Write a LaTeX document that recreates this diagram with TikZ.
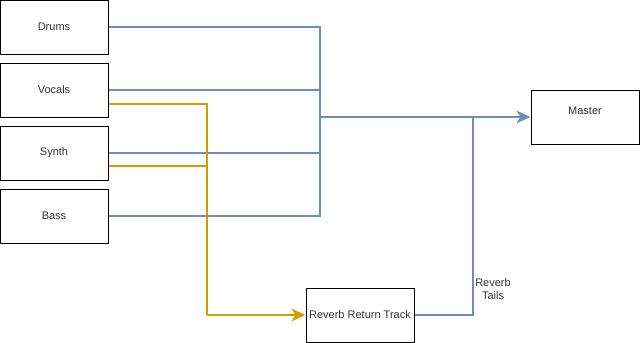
\documentclass[tikz,border=0pt]{standalone}
\usepackage{fontspec}
\setmainfont{Liberation Sans}
\usetikzlibrary{arrows.meta,calc}
\definecolor{busblue}{HTML}{6C8EBF}
\definecolor{sendorange}{HTML}{D79B00}
\definecolor{txt}{HTML}{333333}
\begin{document}
\begin{tikzpicture}[x=0.75pt,y=-0.75pt,
  box/.style={draw=black,line width=0.75pt,fill=white,minimum width=81pt,minimum height=40.5pt,inner sep=0pt,font=\fontsize{8.25}{9.5}\selectfont,text=txt},
  lbl/.style={font=\fontsize{8.25}{9.5}\selectfont,text=txt,inner sep=0pt},
  bl/.style={draw=busblue,line width=1.6pt},
  orl/.style={draw=sendorange,line width=1.6pt},
  tip/.style={-{Stealth[length=10.5pt,width=9.5pt,inset=3pt]}}]
\useasboundingbox (0,0) rectangle (640,343);
\node[box] (drums) at (54,27) {Drums};
\node[box] (vocals) at (54,90) {Vocals};
\node[box] (synth) at (54,153) {Synth};
\node[box] (bass) at (54,216) {Bass};
\node[box,label={[lbl,yshift=4.5pt]center:Master}] (master) at (585,117) {};
\node[box] (reverb) at (360,315) {Reverb Return Track};
\coordinate (bus) at (320,117);
\coordinate (join) at (473,117);
\coordinate (send) at (207,315);
\draw[bl] (drums.east) -| (bus);
\draw[bl] (vocals.east) -| (bus);
\draw[bl] (synth.east) -| (bus);
\draw[bl] (bass.east) -| (bus);
\draw[bl,tip] (bus) -- (master.west);
\draw[bl] (reverb.east) -| (join);
\draw[orl] ($(vocals.east)+(0,14)$) -| (send);
\draw[orl] ($(synth.east)+(0,13)$) -| (send);
\draw[orl,tip] (send) -- (reverb.west);
\node[lbl,align=center] (tails) at (493,289) {Reverb\\Tails};
\end{tikzpicture}
\end{document}
